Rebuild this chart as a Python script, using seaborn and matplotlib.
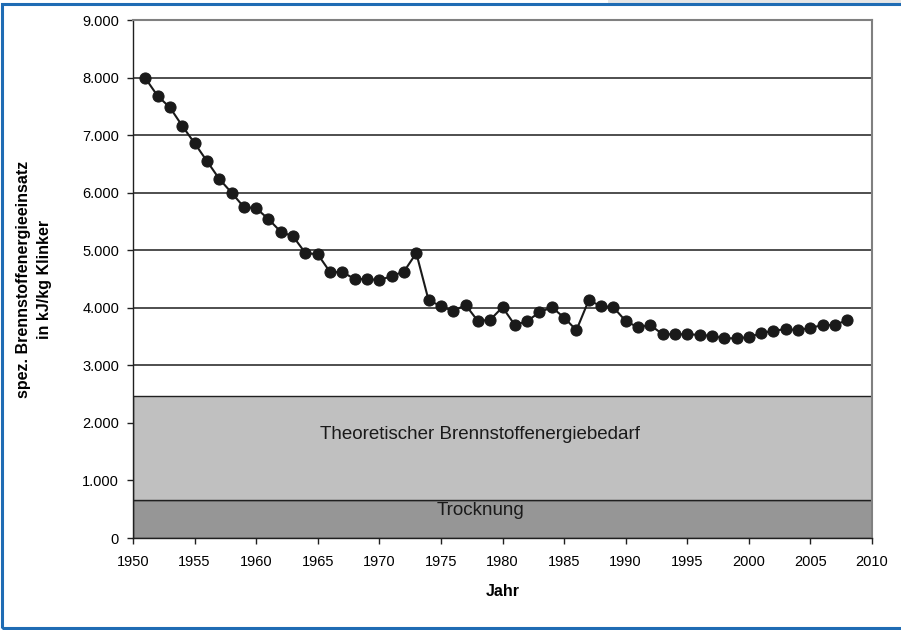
"""Spezifischer Brennstoffenergieeinsatz der Klinkerherstellung 1951-2008"""
import matplotlib
matplotlib.use('Agg')
import matplotlib.pyplot as plt
import matplotlib.ticker as mticker
from matplotlib.patches import Rectangle
import pandas as pd
import seaborn as sns

# Data
years = list(range(1951, 2009))
energy = [
    7990, 7680, 7480, 7160, 6860, 6550, 6240, 6000, 5750, 5730,
    5540, 5320, 5240, 4950, 4930, 4620, 4620, 4500, 4500, 4480,
    4550, 4630, 4950, 4130, 4030, 3940, 4050, 3770, 3790, 4010,
    3700, 3770, 3920, 4010, 3830, 3610, 4130, 4030, 4010, 3770,
    3660, 3700, 3540, 3540, 3540, 3530, 3510, 3470, 3470, 3490,
    3560, 3600, 3630, 3610, 3650, 3700, 3700, 3790,
]

# Background bands (lower, upper bound in kJ/kg Klinker)
band_names = ['Trocknung', 'Theoretischer Brennstoffenergiebedarf']
band_low = [0, 660]
band_high = [660, 2460]
band_colors = ['#969696', '#c0c0c0']

df = pd.DataFrame({'Jahr': years, 'Energie': energy})

sns.set_theme(style='white')
plt.rcParams['font.family'] = ['Liberation Sans', 'DejaVu Sans']
plt.rcParams['text.color'] = 'black'
plt.rcParams['axes.labelcolor'] = 'black'
plt.rcParams['xtick.color'] = 'black'
plt.rcParams['ytick.color'] = 'black'

fig = plt.figure(figsize=(9.01, 6.30), dpi=100)
ax = fig.add_axes([133 / 901, 92 / 630, 739 / 901, 518 / 630])

# bands
for name, lo, hi, col in zip(band_names, band_low, band_high, band_colors):
    ax.axhspan(lo, hi, facecolor=col, edgecolor='#202020', linewidth=1.0, zorder=1)
ax.text(1978.2, 1790, band_names[1], ha='center', va='center', fontsize=13.5,
        color='#1a1a1a', zorder=2)
ax.text(1978.2, 470, band_names[0], ha='center', va='center', fontsize=13.5,
        color='#1a1a1a', zorder=2)

# gridlines, only above the bands
for v in range(1000, 9001, 1000):
    if v > band_high[1]:
        ax.axhline(v, color='#303030', linewidth=1.2, zorder=1.5)

sns.lineplot(data=df, x='Jahr', y='Energie', ax=ax, color='#1a1a1a', linewidth=1.5,
             marker='o', markersize=8, markeredgecolor='#1a1a1a', zorder=3)

ax.set_xlim(1950, 2010)
ax.set_ylim(0, 9000)
ax.set_xticks(range(1950, 2011, 5))
ax.set_yticks(range(0, 9001, 1000))
ax.yaxis.set_major_formatter(mticker.FuncFormatter(
    lambda v, p: '0' if v == 0 else f'{int(v):,}'.replace(',', '.')))
ax.tick_params(axis='both', labelsize=10.5, length=4, width=1, color='#202020',
               direction='out', left=True, bottom=True)
ax.tick_params(axis='y', pad=6)
ax.tick_params(axis='x', pad=8)

ax.set_xlabel('Jahr', fontsize=11.5, fontweight='bold', labelpad=11)
ax.set_ylabel('spez. Brennstoffenergieeinsatz\nin kJ/kg Klinker', fontsize=11.5,
              fontweight='bold', labelpad=22, linespacing=1.45)

for side in ['left', 'bottom']:
    ax.spines[side].set_color('#202020')
    ax.spines[side].set_linewidth(1.0)
for side in ['top', 'right']:
    ax.spines[side].set_color('#808080')
    ax.spines[side].set_linewidth(1.5)

# light gray strip top right and blue frame around the figure
fig.patches.append(Rectangle((608 / 901, 1 - 4 / 630), 1 - 608 / 901, 4 / 630,
                             transform=fig.transFigure, facecolor='#e6e6e6',
                             edgecolor='none', zorder=0))
fig.patches.append(Rectangle((2 / 901, 2.5 / 630), 1.2, 1 - 6.5 / 630,
                             transform=fig.transFigure, facecolor='none',
                             edgecolor='#1f6cb4', linewidth=2.2, zorder=5))

fig.savefig('out.png', dpi=100)
plt.close(fig)
